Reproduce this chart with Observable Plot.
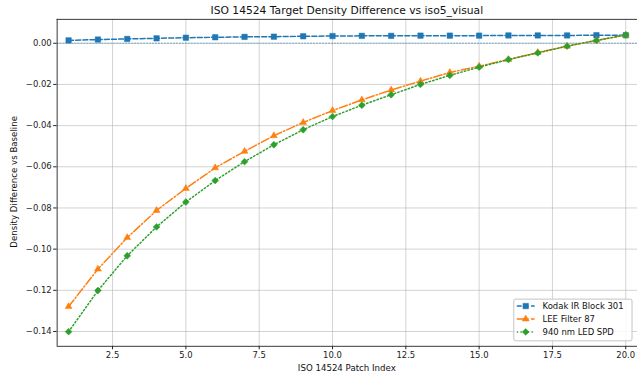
<!DOCTYPE html>
<html><head><meta charset="utf-8">
<script src="https://cdn.jsdelivr.net/npm/d3@7"></script>
<script src="https://cdn.jsdelivr.net/npm/@observablehq/plot@0.6"></script>
<style>html,body{margin:0;padding:0;overflow:hidden;background:#fff;width:638px;height:379px}</style>
</head><body><div id="chart"></div>
<script>
const patch = [1,2,3,4,5,6,7,8,9,10,11,12,13,14,15,16,17,18,19,20];
const kodak = [0.0014,0.0018,0.0021,0.0024,0.0027,0.0029,0.0031,0.0032,0.0034,0.0035,0.0036,0.0036,0.0037,0.0037,0.0037,0.0038,0.0038,0.0038,0.0039,0.0039];
const lee = [-0.1279,-0.1097,-0.0944,-0.0812,-0.0705,-0.0605,-0.0525,-0.0449,-0.0385,-0.0327,-0.0275,-0.0227,-0.0184,-0.0142,-0.0111,-0.0079,-0.0045,-0.0014,0.0014,0.0040];
const led = [-0.1401,-0.1201,-0.1032,-0.0892,-0.0771,-0.0667,-0.0575,-0.0493,-0.0420,-0.0356,-0.0301,-0.0250,-0.0200,-0.0156,-0.0116,-0.0079,-0.0047,-0.0014,0.0014,0.0040];
const seriesNames = ["Kodak IR Block 301","LEE Filter 87","940 nm LED SPD"];
const xTicks = [2.5,5,7.5,10,12.5,15,17.5,20];
const yTicks = [-0.14,-0.12,-0.10,-0.08,-0.06,-0.04,-0.02,0];
const titleText = "ISO 14524 Target Density Difference vs iso5_visual";
const xLabel = "ISO 14524 Patch Index";
const yLabel = "Density Difference vs Baseline";

const colors = ["#1f77b4","#ff7f0e","#2ca02c"];
const dashes = ["5,2.2","8.5,2.2,1.4,2.2","1.4,2.3"];
const symbols = ["square","triangle2","diamond2"];
const radii = [3.1,3.3,3.1];
const seriesVals = [kodak, lee, led];

const xDom = [0.61, 20.4];
const yDom = [-0.1472, 0.0116];

const marks = [
  Plot.ruleX(xTicks, {stroke:"#b0b0b0", strokeWidth:0.8, strokeOpacity:0.7}),
  Plot.ruleY(yTicks, {stroke:"#b0b0b0", strokeWidth:0.8, strokeOpacity:0.7}),
  Plot.ruleY([0], {stroke:"#1f77b4", strokeWidth:1, strokeOpacity:0.55, strokeDasharray:"2,1"}),
];
seriesVals.forEach((vals, i) => {
  const data = patch.map((p, j) => ({x: p, y: vals[j]}));
  marks.push(Plot.line(data, {x:"x", y:"y", stroke: colors[i], strokeWidth:1.5, strokeDasharray: dashes[i]}));
  marks.push(Plot.dot(data, {x:"x", y:"y", symbol: symbols[i], fill: colors[i], stroke: colors[i], strokeWidth:0.5, r: radii[i]}));
});
marks.push(Plot.ruleX([xDom[0]], {stroke:"#222", strokeWidth:0.9}));
marks.push(Plot.ruleY(yDom, {stroke:"#222", strokeWidth:0.9}));

const chart = Plot.plot({
  width: 642, height: 379,
  marginLeft: 57, marginRight: 1, marginTop: 19, marginBottom: 31,
  style: {fontFamily: "DejaVu Sans", fontSize: "8.5px", color: "#222", background: "#fff", overflow: "visible"},
  x: {domain: xDom, ticks: xTicks, tickFormat: d3.format(".1f"), tickSize: 3.5, tickPadding: 2, label: null},
  y: {domain: yDom, ticks: yTicks, tickFormat: d => d3.format(".2f")(d).replace("-", "\u2212"), tickSize: 3.5, tickPadding: 2, label: null},
  marks
});
document.getElementById("chart").appendChild(chart);

const svg = d3.select(chart);
svg.append("text").attr("x", 349).attr("y", 14).attr("text-anchor","middle")
  .attr("font-family","DejaVu Sans").attr("font-size", 10.8).attr("fill","#111").text(titleText);
svg.append("text").attr("x", 349).attr("y", 373).attr("text-anchor","middle")
  .attr("font-family","DejaVu Sans").attr("font-size", 8.7).attr("fill","#111").text(xLabel);
svg.append("text").attr("transform","translate(17,183) rotate(-90)").attr("text-anchor","middle")
  .attr("font-family","DejaVu Sans").attr("font-size", 8.7).attr("fill","#111").text(yLabel);

// legend
const lg = svg.append("g");
lg.append("rect").attr("x",517).attr("y",301).attr("width",119).attr("height",42).attr("rx",2)
  .attr("fill","#fff").attr("fill-opacity",0.85).attr("stroke","#c4c4c4").attr("stroke-width",1);
seriesNames.forEach((name, i) => {
  const yy = 308 + i*13;
  lg.append("line").attr("x1",520).attr("x2",538).attr("y1",yy).attr("y2",yy)
    .attr("stroke",colors[i]).attr("stroke-width",1.5).attr("stroke-dasharray",dashes[i]);
  const sym = {square: d3.symbolSquare, triangle2: d3.symbolTriangle2, diamond2: d3.symbolDiamond2}[symbols[i]];
  lg.append("path").attr("d", d3.symbol(sym, Math.PI*radii[i]*radii[i])()).attr("transform",`translate(529,${yy})`)
    .attr("fill",colors[i]).attr("stroke",colors[i]).attr("stroke-width",0.5);
  lg.append("text").attr("x",546).attr("y",yy).attr("dy","0.35em").attr("text-anchor","start")
    .attr("font-family","DejaVu Sans").attr("font-size",8.5).attr("fill","#111").text(name);
});
</script></body></html>
